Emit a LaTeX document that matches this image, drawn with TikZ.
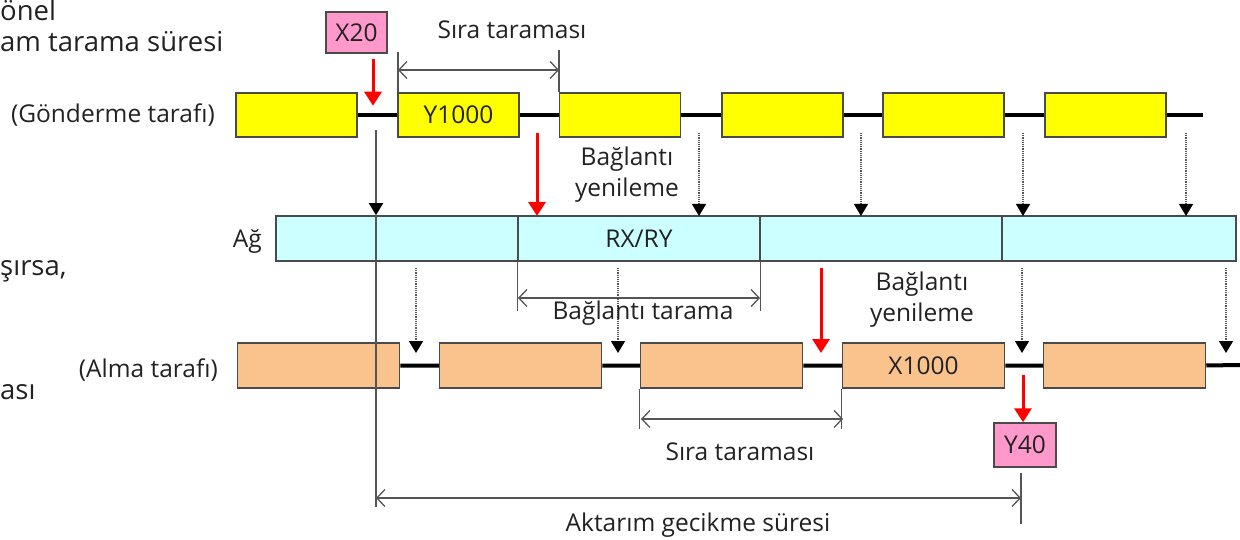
\documentclass[tikz,border=0pt]{standalone}
\usepackage{fontspec}
\setmainfont{Open Sans}
\usetikzlibrary{arrows.meta}
\definecolor{sndfill}{HTML}{FFFF00}
\definecolor{rcvfill}{HTML}{FAC38E}
\definecolor{netfill}{HTML}{CCFFFF}
\definecolor{tagfill}{HTML}{FF99CC}
\definecolor{edge}{HTML}{4A4A4A}
\definecolor{txt}{HTML}{222222}
\definecolor{dimc}{HTML}{555555}
\tikzset{
  box/.style={draw=edge, line width=1.5pt, minimum height=44pt, inner sep=0pt, text=txt, font=\fontsize{24.5}{28}\selectfont},
  sndbox/.style={box, fill=sndfill, minimum width=121pt},
  rcvbox/.style={box, fill=rcvfill, minimum width=162pt, minimum height=45pt},
  netbox/.style={box, fill=netfill, minimum width=242pt, minimum height=45pt},
  tagbox/.style={box, fill=tagfill, minimum width=61pt, minimum height=41pt},
  bus/.style={line width=4pt, black},
  lbl/.style={text=txt, font=\fontsize{24.5}{31}\selectfont, inner sep=0pt, align=center},
  biglbl/.style={lbl, font=\fontsize{27.5}{33}\selectfont},
  dimline/.style={dimc, line width=1.3pt},
  dimarrow/.style={dimline, {Straight Barb[length=8pt,width=17pt,line width=1.3pt]}-{Straight Barb[length=8pt,width=17pt,line width=1.3pt]}},
  redarrow/.style={red, line width=3pt, -{Triangle[length=14pt,width=17pt]}},
  dotarrow/.style={dimc, line width=1.2pt, densely dotted, -{Triangle[length=12pt,width=14pt,black]}},
  solidarrow/.style={dimc, line width=1.3pt, -{Triangle[length=12pt,width=14pt,black]}},
}
\begin{document}
\begin{tikzpicture}[x=1pt,y=-1pt]
\useasboundingbox (0,0) rectangle (1240,540);
% left cut texts
\node[biglbl, anchor=north west] (t0) at (0,-1) {önel};
\node[biglbl, anchor=west] (t1) at (0,42) {am tarama süresi};
\node[biglbl, anchor=west] (t2) at (0,271) {şırsa,};
\node[biglbl, anchor=west] (t3) at (0,392) {ası};
\node[lbl, anchor=east] (lsnd) at (215,115) {(Gönderme tarafı)};
\node[lbl, anchor=east] (lnet) at (262,241) {Ağ};
\node[lbl, anchor=east] (lrcv) at (218,370) {(Alma tarafı)};
% sending side
\node[sndbox] (S1) at (296.5,115) {};
\node[sndbox] (S2) at (458.5,115) {Y1000};
\node[sndbox] (S3) at (620,115) {};
\node[sndbox] (S4) at (782.5,115) {};
\node[sndbox] (S5) at (943.5,115) {};
\node[sndbox] (S6) at (1105.5,115) {};
\coordinate (sEnd) at (1203,115);
\draw[bus] (S1.east) -- (S2.west) (S2.east) -- (S3.west) (S3.east) -- (S4.west)
  (S4.east) -- (S5.west) (S5.east) -- (S6.west) (S6.east) -- (sEnd);
% network
\node[netbox] (N1) at (397,238.5) {};
\node[netbox] (N2) at (639,238.5) {RX/RY};
\node[netbox] (N3) at (881,238.5) {};
\node[netbox, minimum width=234pt] (N4) at (1119,238.5) {};
% receiving side
\node[rcvbox] (R1) at (318.5,365.5) {};
\node[rcvbox] (R2) at (520.5,365.5) {};
\node[rcvbox] (R3) at (721.5,365.5) {};
\node[rcvbox] (R4) at (923.5,365.5) {X1000};
\node[rcvbox] (R5) at (1124.5,365.5) {};
\coordinate (rEnd) at (1240,365);
\draw[bus] (R1.east) -- (R2.west) (R2.east) -- (R3.west) (R3.east) -- (R4.west)
  (R4.east) -- (R5.west) (R5.east) -- (rEnd);
% tags
\node[tagbox] (X20) at (356.5,32.5) {X20};
\node[tagbox, minimum width=62pt, minimum height=44pt] (Y40) at (1025,445) {Y40};
\draw[redarrow] ([xshift=16.5pt,yshift=-5pt]X20.south) -- ++(0,47);
\coordinate (y40in) at (1023,375);
\draw[redarrow] (y40in) -- ([xshift=-2pt]Y40.north);
% start of transfer line
\coordinate (a0) at (376,130);
\coordinate (a1) at (376,507);
\draw[solidarrow] (a0) -- (a0 |- N1.north);
\draw[dimline] (a0 |- N1.north) -- (a1);
% sending -> network
\draw[redarrow] (537,133) -- (537,216);
\foreach \x in {699,861,1023,1186} \draw[dotarrow] (\x,133) -- (\x,216);
% network -> receiving
\draw[redarrow] (821,268) -- (821,353);
\foreach \x in {416,618,1022,1226} \draw[dotarrow] (\x,268) -- (\x,353);
% top Sira taramasi
\coordinate (d1) at (398,52);
\coordinate (d2) at (559,50);
\draw[dimline] (d1) -- (d1 |- S2.north);
\draw[dimline] (d2) -- (d2 |- S3.north);
\draw[dimarrow] (398,70) -- (559,70);
\node[lbl] (ls1) at (512,30) {Sıra taraması};
% labels Baglanti yenileme
\node[lbl] (by1) at (627,175) {Bağlantı\\yenileme};
\node[lbl] (by2) at (922,300) {Bağlantı\\yenileme};
% Baglanti tarama
\draw[dimline] (N2.south west) -- ++(0,49);
\draw[dimline] (N2.south east) -- ++(0,49);
\draw[dimarrow] (518,298) -- (760,298);
\node[lbl] (lbt) at (643,313) {Bağlantı tarama};
% bottom Sira taramasi
\draw[dimline] (R3.south west) -- ++(0,40);
\draw[dimline] (R4.south west) -- ++(0,40);
\draw[dimarrow] (641,419) -- (843,419);
\node[lbl] (ls2) at (740,452) {Sıra taraması};
% Aktarim gecikme suresi
\coordinate (e1) at (1021,473);
\draw[dimline] (e1) -- (1021,524);
\draw[dimarrow] (376,498) -- (1021,498);
\node[lbl] (lag) at (698,525) {Aktarım gecikme süresi};
\end{tikzpicture}
\end{document}
